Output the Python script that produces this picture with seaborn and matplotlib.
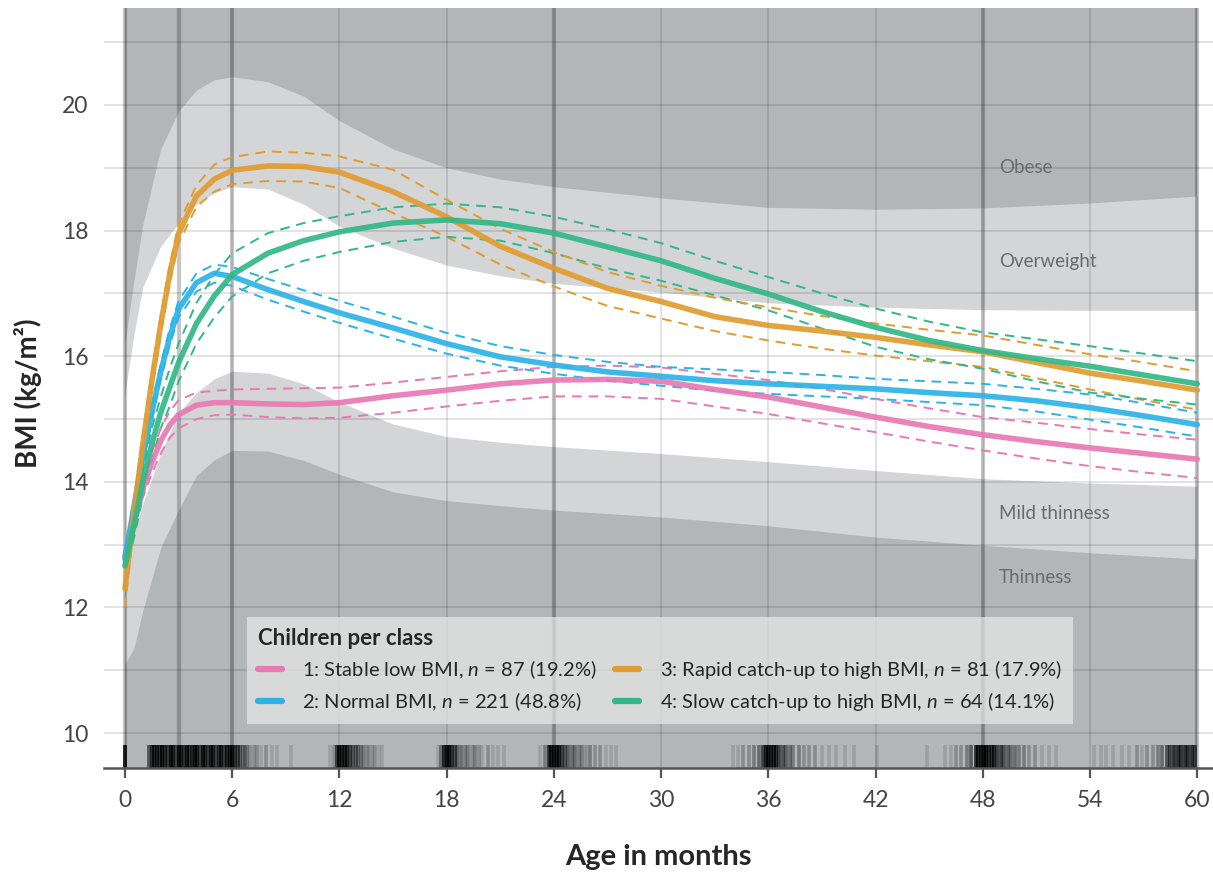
import numpy as np
import pandas as pd
import matplotlib
matplotlib.use("Agg")
import matplotlib.pyplot as plt
import seaborn as sns
from matplotlib.lines import Line2D

# class trajectories (mean and 95% CI)
ages = [0, 0.5, 1, 1.5, 2, 2.5, 3, 4, 5, 6, 8, 10, 12, 15, 18, 21, 24, 27, 30,
        33, 36, 39, 42, 45, 48, 51, 54, 57, 60]

c1_mean = [12.82, 13.35, 13.9, 14.3, 14.65, 14.9, 15.07, 15.22, 15.26, 15.26, 15.24, 15.23, 15.26, 15.37, 15.46,
           15.56, 15.62, 15.63, 15.6, 15.47, 15.35, 15.19, 15.03, 14.88, 14.75, 14.64, 14.54, 14.45, 14.36]
c1_upper = [12.95, 13.5, 14.05, 14.47, 14.85, 15.12, 15.3, 15.42, 15.45, 15.47, 15.48, 15.49, 15.5, 15.58, 15.67,
            15.76, 15.83, 15.85, 15.82, 15.72, 15.62, 15.48, 15.32, 15.17, 15.03, 14.94, 14.84, 14.75, 14.67]
c1_lower = [12.68, 13.2, 13.75, 14.13, 14.45, 14.7, 14.85, 15.0, 15.06, 15.07, 15.03, 15.01, 15.02, 15.1, 15.2,
            15.29, 15.36, 15.36, 15.32, 15.2, 15.08, 14.93, 14.79, 14.64, 14.5, 14.37, 14.25, 14.15, 14.06]

c2_mean = [12.77, 13.6, 14.4, 15.1, 15.75, 16.3, 16.75, 17.17, 17.32, 17.27, 17.06, 16.87, 16.69, 16.45, 16.2,
           15.99, 15.86, 15.75, 15.68, 15.61, 15.56, 15.52, 15.48, 15.42, 15.37, 15.29, 15.18, 15.05, 14.91]
c2_upper = [12.87, 13.72, 14.52, 15.22, 15.87, 16.43, 16.88, 17.32, 17.46, 17.42, 17.23, 17.05, 16.88, 16.63, 16.37,
            16.16, 16.02, 15.91, 15.83, 15.79, 15.75, 15.7, 15.64, 15.6, 15.56, 15.48, 15.39, 15.25, 15.1]
c2_lower = [12.67, 13.48, 14.28, 14.98, 15.63, 16.17, 16.62, 17.03, 17.17, 17.12, 16.9, 16.71, 16.53, 16.28, 16.04,
            15.85, 15.72, 15.61, 15.53, 15.45, 15.4, 15.36, 15.32, 15.27, 15.22, 15.12, 14.99, 14.86, 14.72]

c3_mean = [12.3, 13.5, 14.6, 15.6, 16.5, 17.3, 17.95, 18.55, 18.82, 18.96, 19.03, 19.02, 18.93, 18.62, 18.22,
           17.75, 17.4, 17.08, 16.87, 16.63, 16.49, 16.4, 16.3, 16.18, 16.07, 15.9, 15.73, 15.6, 15.46]
c3_upper = [12.6, 13.7, 14.75, 15.75, 16.65, 17.45, 18.1, 18.72, 19.05, 19.17, 19.26, 19.24, 19.18, 18.97, 18.49,
            18.03, 17.66, 17.34, 17.12, 16.93, 16.78, 16.64, 16.52, 16.42, 16.33, 16.18, 16.03, 15.9, 15.76]
c3_lower = [12.0, 13.3, 14.45, 15.45, 16.35, 17.15, 17.8, 18.38, 18.62, 18.74, 18.79, 18.78, 18.68, 18.28, 17.9,
            17.46, 17.11, 16.8, 16.6, 16.4, 16.25, 16.12, 16.01, 15.92, 15.83, 15.65, 15.47, 15.3, 15.15]

c4_mean = [12.66, 13.3, 14.0, 14.6, 15.1, 15.5, 15.9, 16.52, 16.96, 17.3, 17.64, 17.84, 17.98, 18.12, 18.17,
           18.11, 17.96, 17.74, 17.52, 17.24, 16.99, 16.71, 16.46, 16.25, 16.09, 15.96, 15.84, 15.7, 15.56]
c4_upper = [12.8, 13.5, 14.2, 14.85, 15.35, 15.8, 16.2, 16.85, 17.3, 17.64, 17.96, 18.12, 18.23, 18.37, 18.43,
            18.37, 18.22, 18.02, 17.8, 17.52, 17.26, 17.0, 16.76, 16.55, 16.38, 16.27, 16.16, 16.04, 15.92]
c4_lower = [12.5, 13.1, 13.75, 14.35, 14.85, 15.2, 15.6, 16.2, 16.62, 16.95, 17.32, 17.52, 17.66, 17.82, 17.9,
            17.84, 17.64, 17.4, 17.2, 16.97, 16.73, 16.44, 16.15, 15.95, 15.8, 15.6, 15.42, 15.32, 15.23]

class_labels = [
    "1: Stable low BMI, $n$ = 87 (19.2%)",
    "2: Normal BMI, $n$ = 221 (48.8%)",
    "3: Rapid catch-up to high BMI, $n$ = 81 (17.9%)",
    "4: Slow catch-up to high BMI, $n$ = 64 (14.1%)",
]
class_colors = ["#E879B3", "#2BB3E8", "#E09C30", "#31B887"]

# reference bands (BMI-for-age z-scores)
band_ages = [0, 0.5, 1, 2, 3, 4, 5, 6, 8, 10, 12, 15, 18, 21, 24, 30, 36, 42, 48, 54, 60]
sd_plus2 = [16.2, 17.2, 18.1, 19.3, 19.9, 20.24, 20.4, 20.45, 20.37, 20.14, 19.75, 19.3, 19.0, 18.82, 18.7,
            18.52, 18.37, 18.34, 18.36, 18.44, 18.55]
sd_plus1 = [15.4, 16.35, 17.1, 17.75, 18.12, 18.42, 18.6, 18.7, 18.66, 18.42, 18.07, 17.72, 17.45, 17.28, 17.16,
            17.02, 16.85, 16.78, 16.74, 16.73, 16.73]
sd_minus1 = [12.65, 13.18, 13.65, 14.45, 15.1, 15.42, 15.64, 15.76, 15.73, 15.56, 15.27, 14.92, 14.72, 14.63,
             14.56, 14.45, 14.32, 14.18, 14.05, 13.98, 13.93]
sd_minus2 = [11.1, 11.35, 11.95, 12.95, 13.55, 14.1, 14.35, 14.5, 14.49, 14.34, 14.12, 13.84, 13.7, 13.62, 13.55,
             13.44, 13.3, 13.12, 12.99, 12.87, 12.77]
band_names = ["Obese", "Overweight", "Mild thinness", "Thinness"]
band_label_y = [19.0, 17.5, 13.49, 12.48]

# measurement ages for the rug (age, number of children)
rug_ages = [0,
            1.35, 1.5, 1.65, 1.8, 1.95, 2.1, 2.25, 2.4, 2.55, 2.7, 2.85, 3.0, 3.15, 3.3, 3.45, 3.6, 3.75, 3.9,
            4.05, 4.2, 4.35, 4.5, 4.65, 4.8, 4.95, 5.1, 5.25, 5.4, 5.55, 5.7, 5.85, 6.0, 6.15, 6.3, 6.45, 6.6,
            6.7, 6.85, 7.0, 7.2, 7.4, 7.6, 7.9, 8.2, 8.5, 9.3,
            11.5, 11.7, 11.85, 12.0, 12.15, 12.3, 12.45, 12.6, 12.75, 12.9, 13.05, 13.2, 13.4, 13.6, 13.8, 14.0,
            14.2, 14.4,
            17.5, 17.7, 17.85, 18.0, 18.15, 18.3, 18.45, 18.6, 18.8, 19.0, 19.2, 19.4, 19.6, 19.8, 20.0, 20.3,
            20.6, 20.9, 21.2,
            23.2, 23.5, 23.7, 23.85, 24.0, 24.15, 24.3, 24.45, 24.6, 24.8, 25.0, 25.2, 25.4, 25.6, 25.8, 26.0,
            26.3, 26.6, 26.9, 27.2, 27.5,
            34.0, 34.3, 34.6, 34.9, 35.2, 35.45, 35.7, 35.85, 36.0, 36.15, 36.3, 36.45, 36.6, 36.8, 37.0, 37.2,
            37.4, 37.7, 38.0, 38.3, 38.6, 39.0, 39.4, 39.8, 40.3, 40.8, 42.1, 44.9,
            45.9, 46.2, 46.5, 46.8, 47.1, 47.35, 47.6, 47.75, 47.9, 48.05, 48.2, 48.35, 48.5, 48.65, 48.8, 49.0,
            49.2, 49.4, 49.6, 49.8, 50.0, 50.3, 50.6, 50.9, 51.3, 51.7, 52.1,
            54.2, 54.6, 54.9, 55.3, 55.8, 56.2, 56.6, 56.9, 57.2, 57.5, 57.8, 58.05, 58.3, 58.5, 58.7, 58.9,
            59.1, 59.3, 59.5, 59.7, 59.9]
rug_counts = [14,
              6, 10, 12, 14, 10, 14, 12, 9, 14, 12, 8, 14, 12, 10, 14, 9, 12, 14,
              12, 8, 14, 11, 9, 13, 12, 8, 10, 12, 9, 13, 14, 14, 10, 7, 5, 4,
              3, 3, 2, 2, 2, 1, 2, 1, 1, 1,
              1, 2, 8, 14, 14, 12, 10, 8, 6, 5, 4, 4, 3, 3, 2, 2,
              1, 1,
              1, 4, 12, 14, 14, 10, 6, 5, 4, 3, 3, 2, 3, 2, 1, 2,
              1, 1, 1,
              1, 3, 10, 14, 14, 14, 12, 8, 6, 5, 4, 4, 3, 3, 2, 3,
              2, 2, 1, 1, 1,
              1, 1, 2, 2, 3, 4, 8, 12, 14, 14, 12, 10, 8, 6, 5, 4,
              3, 3, 2, 2, 2, 1, 1, 1, 1, 1, 1, 1,
              1, 1, 2, 2, 3, 5, 10, 12, 14, 14, 14, 12, 10, 10, 8, 8,
              6, 5, 4, 4, 3, 3, 2, 2, 1, 1, 1,
              1, 1, 1, 1, 1, 1, 2, 1, 2, 2, 3, 4, 6, 8, 10, 10,
              10, 10, 10, 10, 8]

x_ticks = [0, 6, 12, 18, 24, 30, 36, 42, 48, 54, 60]
visit_lines = [0, 3, 6, 24, 48, 60]

# long table for seaborn
frames = []
for lab, m, lo, up in zip(class_labels,
                          [c1_mean, c2_mean, c3_mean, c4_mean],
                          [c1_lower, c2_lower, c3_lower, c4_lower],
                          [c1_upper, c2_upper, c3_upper, c4_upper]):
    frames.append(pd.DataFrame({"age": ages, "bmi": m, "lower": lo, "upper": up, "cls": lab}))
df = pd.concat(frames, ignore_index=True)
palette = dict(zip(class_labels, class_colors))

sns.set_theme(style="white")
plt.rcParams["font.family"] = ["Lato", "DejaVu Sans"]
plt.rcParams["mathtext.fontset"] = "custom"
plt.rcParams["mathtext.it"] = "Lato:italic"
plt.rcParams["mathtext.rm"] = "Lato"

DARK = "#b3b6b8"
LIGHT = "#d4d5d6"

fig = plt.figure(figsize=(12.13, 8.74), dpi=100)
ax = fig.add_axes([0.0857, 0.1213, 0.9143, 0.8696])
ax.set_xlim(-1.175, 60.88)
ax.set_ylim(9.443, 21.545)

# reference bands
ax.axvspan(0, 60, color=DARK, lw=0, zorder=0)
ax.fill_between(band_ages, sd_minus2, sd_plus2, color=LIGHT, lw=0, zorder=0.2)
ax.fill_between(band_ages, sd_minus1, sd_plus1, color="white", lw=0, zorder=0.4)

# grid
for yv in range(10, 22):
    ax.axhline(yv, color="black", alpha=0.12, lw=1.3, zorder=1)
for xv in x_ticks:
    ax.axvline(xv, color="black", alpha=0.12, lw=1.3, zorder=1)
for xv in visit_lines:
    ax.axvline(xv, color="black", alpha=0.22, lw=3, zorder=1.1)

for name, yv in zip(band_names, band_label_y):
    ax.text(48.9, yv, name, color="#6a6a6a", fontsize=13.5, va="center", ha="left", zorder=2)

# rug of measurement ages
rug_x = np.repeat(rug_ages, rug_counts)
sns.rugplot(x=rug_x, height=0.03, color="black", alpha=0.12, linewidth=2.6, ax=ax, zorder=2)

# CI lines and class means
for col in ["lower", "upper"]:
    sns.lineplot(data=df, x="age", y=col, hue="cls", palette=palette, estimator=None,
                 lw=1.4, dashes=False, legend=False, ax=ax, zorder=3)
for line in ax.get_lines()[-8:]:
    line.set_linestyle((0, (5, 3.5)))
sns.lineplot(data=df, x="age", y="bmi", hue="cls", palette=palette, estimator=None,
             lw=4, alpha=0.92, legend=False, ax=ax, zorder=4)

# axes styling
for s in ["left", "right", "top"]:
    ax.spines[s].set_visible(False)
ax.spines["bottom"].set_color("#555555")
ax.spines["bottom"].set_linewidth(1.8)
ax.spines["bottom"].set_zorder(5)
ax.set_xticks(x_ticks)
ax.set_yticks([10, 12, 14, 16, 18, 20])
ax.tick_params(axis="x", length=7.5, width=1.6, color="#555555", pad=8, labelsize=16.5, labelcolor="#444444",
               bottom=True)
ax.tick_params(axis="y", length=0, pad=11, labelsize=16.5, labelcolor="#444444")
ax.set_xlabel("")
ax.set_ylabel("")
ax.grid(False)

fig.text(28 / 1213, 1 - 393 / 874, "BMI (kg/m²)", rotation=90, fontsize=20, fontweight="bold",
         ha="center", va="center")
fig.text(658 / 1213, 1 - 857 / 874, "Age in months", fontsize=21, fontweight="bold",
         ha="center", va="center")

handles = [Line2D([0], [0], color=c, lw=4.5) for c in class_colors]
leg = ax.legend(handles, class_labels, ncol=2, loc="upper left", bbox_to_anchor=(0.129, 0.1987),
                borderaxespad=0, title="Children per class", fontsize=14.5,
                title_fontproperties={"weight": "bold", "size": 16},
                frameon=True, fancybox=False, framealpha=0.7, facecolor="#e8e8e8", edgecolor="none",
                handlelength=1.2, handletextpad=1.0, columnspacing=0.9, labelspacing=0.45, borderpad=0.55)
leg._legend_box.align = "left"
leg.set_zorder(6)

fig.savefig("out.png", dpi=100)
